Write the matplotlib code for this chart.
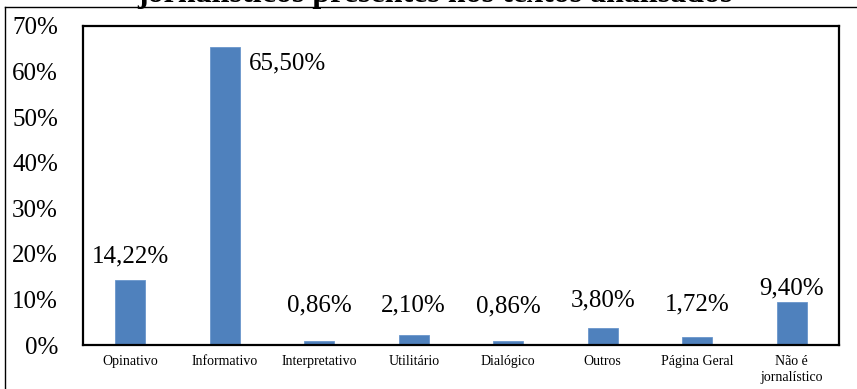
import matplotlib
matplotlib.use("Agg")
import matplotlib.pyplot as plt
import numpy as np
from matplotlib.lines import Line2D

categorias = ["Opinativo", "Informativo", "Interpretativo", "Utilitário", "Dialógico",
              "Outros", "Página Geral", "Não é\njornalístico"]
valores = [14.22, 65.50, 0.86, 2.10, 0.86, 3.80, 1.72, 9.40]
rotulos = ["14,22%", "65,50%", "0,86%", "2,10%", "0,86%", "3,80%", "1,72%", "9,40%"]
# where the data labels sit (x, y in data units), placed by hand in the original
rotulo_x = [0, 1.66, 2, 3, 4, 5, 6, 7]
rotulo_y = [19.4, 61.7, 8.6, 8.6, 8.4, 9.7, 8.8, 12.3]
yticks = [0, 10, 20, 30, 40, 50, 60, 70]

plt.rcParams['font.family'] = ['Liberation Serif', 'DejaVu Serif']

fig = plt.figure(figsize=(8.57, 3.89), dpi=100)
ax = fig.add_axes([83/857, 1 - 345/389, (839 - 83)/857, (345 - 26)/389])

x = np.arange(len(categorias))
ax.bar(x, valores, width=0.32, color='#4F81BD', edgecolor='#6a96cc', linewidth=0.6)

for xi, yi, t in zip(rotulo_x, rotulo_y, rotulos):
    ax.text(xi, yi, t, ha='center', va='center', fontsize=18)

ax.set_xlim(-0.5, len(categorias) - 0.5)
ax.set_ylim(0, 70)
ax.set_yticks(yticks)
ax.set_yticklabels([f"{v}%" for v in yticks], fontsize=18)
ax.set_xticks(x)
ax.set_xticklabels(categorias, fontsize=10, linespacing=1.35)
ax.tick_params(axis='y', length=0, pad=18)
ax.tick_params(axis='x', length=0, pad=7)
for s in ax.spines.values():
    s.set_linewidth(1.6)
    s.set_color('black')

# outer frame of the figure (top and left edges visible)
fig.add_artist(Line2D([5/857, 1], [1 - 7/389, 1 - 7/389], color='black', lw=1.0))
fig.add_artist(Line2D([5/857, 5/857], [0, 1 - 7/389], color='black', lw=1.0))

# title, cut off at the top of the image
fig.text(435/857, 1 - 2/389, "jornalísticos presentes nos textos analisados",
         ha='center', va='baseline', fontsize=23, fontweight='bold')

fig.savefig("out.png", dpi=100)
